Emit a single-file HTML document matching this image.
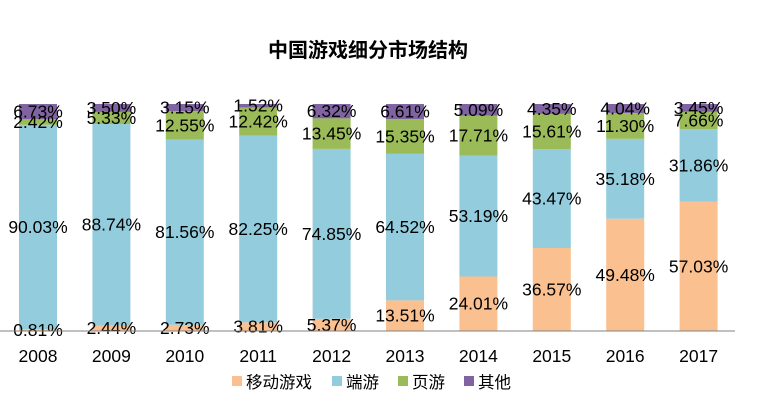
<!DOCTYPE html>
<html><head><meta charset="utf-8"><style>
body{margin:0;background:#fff;}
svg text{font-family:"Liberation Sans","Noto Sans CJK SC",sans-serif;}
</style></head><body>
<svg id="c" width="757" height="403">
<text x="368" y="57" text-anchor="middle" font-size="20" font-weight="bold">中国游戏细分市场结构</text>
<g id="bars"></g>
<line x1="0" y1="331" x2="735" y2="331" stroke="#808080" stroke-width="1"/>
<g id="legend"></g>
</svg>
<script>
const years=["2008","2009","2010","2011","2012","2013","2014","2015","2016","2017"];
const mobile=[0.81,2.44,2.73,3.81,5.37,13.51,24.01,36.57,49.48,57.03];
const client=[90.03,88.74,81.56,82.25,74.85,64.52,53.19,43.47,35.18,31.86];
const web=[2.42,5.33,12.55,12.42,13.45,15.35,17.71,15.61,11.30,7.66];
const other=[6.73,3.50,3.15,1.52,6.32,6.61,5.09,4.35,4.04,3.45];
const seriesNames=["移动游戏","端游","页游","其他"];
const colors=["#FAC090","#93CDDD","#9BBB59","#8064A2"];
const series=[mobile,client,web,other];
const ns="http://www.w3.org/2000/svg";
const y0=331,y1=104;
const x=i=>38+i*73.4;
const y=v=>y0-(y0-y1)*v/100;
const g=document.getElementById('bars');
years.forEach((yr,i)=>{
  let acc=0;
  series.forEach((s,k)=>{
    const v=s[i];
    const r=document.createElementNS(ns,'rect');
    r.setAttribute('x',x(i)-19);r.setAttribute('width',38);
    r.setAttribute('y',y(acc+v));r.setAttribute('height',y(acc)-y(acc+v));
    r.setAttribute('fill',colors[k]);
    
    
    g.appendChild(r);
    acc+=v;
  });
  acc=0;
  series.forEach((s,k)=>{
    const v=s[i];
    const t=document.createElementNS(ns,'text');
    t.setAttribute('x',x(i));t.setAttribute('y',y(acc+v/2)+6);
    t.setAttribute('text-anchor','middle');t.setAttribute('font-size','17.5');
    t.textContent=v.toFixed(2)+'%';
    
    
    g.appendChild(t);
    acc+=v;
  });
  const t=document.createElementNS(ns,'text');
  t.setAttribute('x',x(i));t.setAttribute('y',362);
  t.setAttribute('text-anchor','middle');t.setAttribute('font-size','17.5');
  t.textContent=yr;
  
  
  g.appendChild(t);
});
const lg=document.getElementById('legend');
const lx=[232,332,398,464];
seriesNames.forEach((n,k)=>{
  const r=document.createElementNS(ns,'rect');
  r.setAttribute('x',lx[k]);r.setAttribute('y',376);r.setAttribute('width',10);r.setAttribute('height',10);
  r.setAttribute('fill',colors[k]);
  
  
  lg.appendChild(r);
  const t=document.createElementNS(ns,'text');
  t.setAttribute('x',lx[k]+14);t.setAttribute('y',388);t.setAttribute('font-size','16.5');
  t.textContent=n;
  
  
  lg.appendChild(t);
});
</script>
</body></html>
